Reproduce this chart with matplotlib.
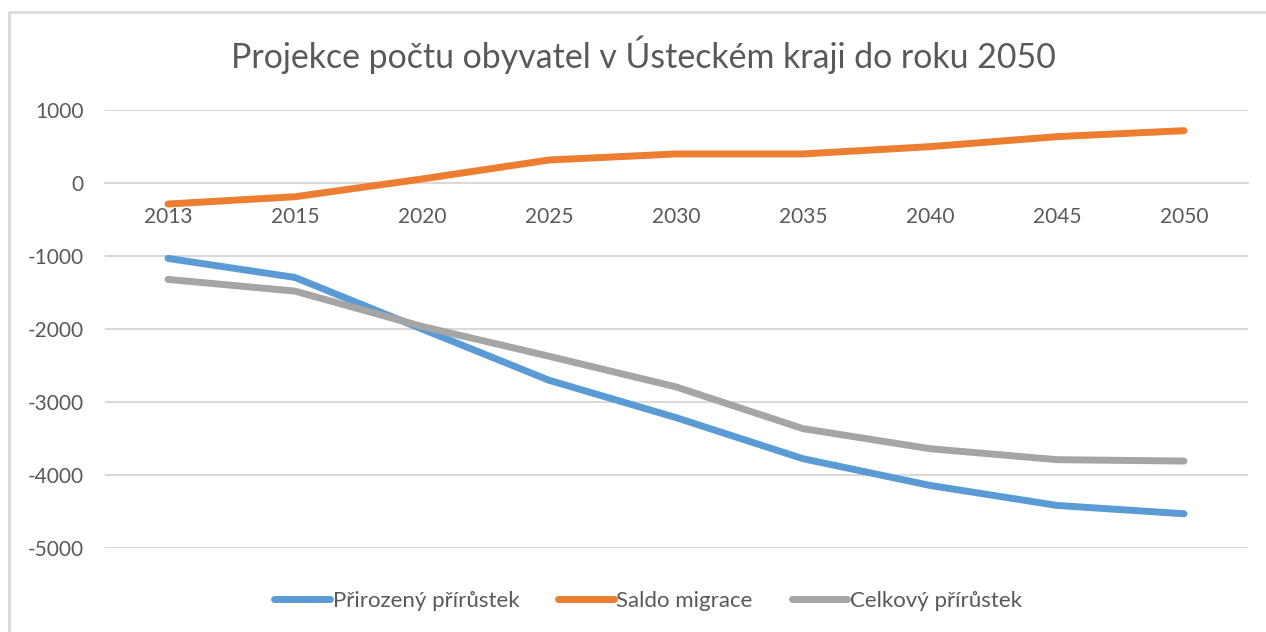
import matplotlib.pyplot as plt
from matplotlib.lines import Line2D

# Data
years = ['2013', '2015', '2020', '2025', '2030', '2035', '2040', '2045', '2050']
prirozeny = [-1033, -1294, -2000, -2702, -3214, -3777, -4143, -4417, -4531]
saldo = [-288, -188, 55, 315, 398, 398, 498, 635, 717]
celkovy = [-1321, -1481, -1965, -2373, -2793, -3365, -3640, -3790, -3809]

series_names = ['Přirozený přírůstek', 'Saldo migrace', 'Celkový přírůstek']
colors = ['#5B9BD5', '#ED7D31', '#A5A5A5']

plt.rcParams['font.family'] = ['Lato', 'DejaVu Sans']
plt.rcParams['axes.unicode_minus'] = False
text_color = '#595959'
grid_color = '#D9D9D9'

W, H = 1266, 632
fig = plt.figure(figsize=(W / 100, H / 100), dpi=100)
ax = fig.add_axes([104.5 / W, 1 - 548 / H, (1247.5 - 104.5) / W, (548 - 110) / H])

x = list(range(len(years)))
for vals, name, c in zip([prirozeny, saldo, celkovy], series_names, colors):
    ax.plot(x, vals, color=c, lw=5, solid_capstyle='round',
            solid_joinstyle='round', label=name, zorder=3)

ax.set_xlim(-0.5, len(years) - 0.5)
ax.set_ylim(-5000, 1000)
ax.set_yticks(range(-5000, 1001, 1000))
ax.yaxis.grid(True, color=grid_color, lw=1.5)
ax.set_axisbelow(True)

for s in ['left', 'right', 'top']:
    ax.spines[s].set_visible(False)
ax.spines['bottom'].set_position(('data', 0))
ax.spines['bottom'].set_color(grid_color)
ax.spines['bottom'].set_linewidth(1.5)

ax.set_xticks(x)
ax.set_xticklabels(years)
ax.tick_params(axis='x', length=0, pad=17, labelsize=15, labelcolor=text_color)
ax.tick_params(axis='y', length=0, pad=15, labelsize=15, labelcolor=text_color)

fig.text(643 / W, 1 - 55 / H, 'Projekce počtu obyvatel v Ústeckém kraji do roku 2050',
         ha='center', va='center', fontsize=24.4, color=text_color)

leg = fig.legend(loc='center', bbox_to_anchor=(648 / W, 1 - 601 / H), ncol=3,
                 frameon=False, fontsize=16, handlelength=2.5, handletextpad=0.12,
                 columnspacing=1.75)
for t in leg.get_texts():
    t.set_color(text_color)

# outer chart frame
fig.add_artist(Line2D([8.5 / W, 8.5 / W, 1.0], [0.0, 1 - 11.5 / H, 1 - 11.5 / H],
                      transform=fig.transFigure, color=grid_color, lw=2))

fig.savefig('out.png', dpi=100)
